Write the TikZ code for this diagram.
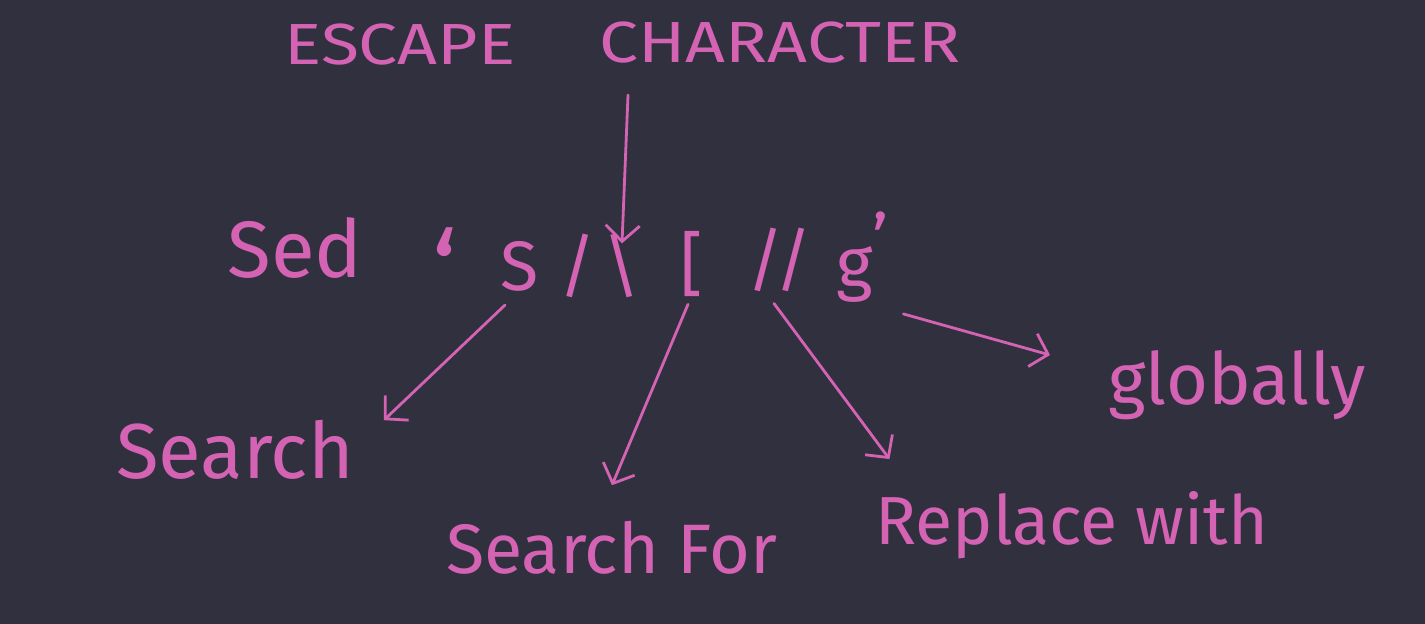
\documentclass[tikz,border=0pt]{standalone}
\usepackage{fontspec}
\setmainfont{Fira Sans}
\usetikzlibrary{arrows.meta,calc}
\definecolor{bg}{HTML}{31303F}
\definecolor{ink}{HTML}{D463B4}
\begin{document}
\begin{tikzpicture}[x=1pt,y=-1pt,
  txt/.style={text=ink,inner sep=0pt},
  cmd/.style={txt,anchor=base,font=\fontsize{70}{76}\selectfont},
  lbl/.style={txt},
  ttl/.style={txt,font=\fontsize{58}{62}\selectfont,xscale=1.2,transform shape},
  arr/.style={draw=ink,line width=2.8pt,line cap=round,
    -{Straight Barb[length=16pt,width=34pt,line width=2.8pt]}},
]
\fill[bg] (0,0) rectangle (1425,624);
\useasboundingbox (0,0) rectangle (1425,624);

% title
\node[ttl] (esc1) at (400,45) {ESCAPE};
\node[ttl] (esc2) at (780,43) {CHARACTER};
\coordinate (escfrom) at (628,95);

% command
\node[cmd,font=\fontsize{80}{86}\selectfont] (sed) at (295,277) {Sed};
\node[cmd,font=\fontsize{110}{116}\selectfont] (q1) at (445,310) {‘};
\node[cmd] (s) at (520,290) {S};
\node[cmd] (sl) at (578,290) {/};
\node[cmd] (bs) at (622,290) {\textbackslash};
\node[cmd] (br) at (692,288) {[};
\node[cmd] (sl2) at (780,284) {//};
\node[cmd] (g) at (855,287) {g};
\node[cmd] (q2) at (880,264) {’};

% labels
\node[lbl,font=\fontsize{78}{84}\selectfont] (search) at (235,450) {Search};
\node[lbl,font=\fontsize{70}{76}\selectfont] (searchfor) at (612,548) {Search For};
\node[lbl,font=\fontsize{68}{74}\selectfont] (replace) at (1072,525) {Replace with};
\node[lbl,font=\fontsize{72}{78}\selectfont] (globally) at (1237,385) {globally};

% arrows
\draw[arr] (escfrom) -- ($(bs.north)+(0,10)$);
\draw[arr] ($(s.south)+(-15,14)$) -- ($(search.north east)+(30,0)$);
\draw[arr] ($(br.south)+(-4,8)$) -- ($(searchfor.north)+(0,-36)$);
\draw[arr] ($(sl2.south)+(-6,12)$) -- ($(replace.north west)+(14,-32)$);
\draw[arr] ($(g.east)+(30,40)$) -- ($(globally.west)+(-58,-30)$);
\end{tikzpicture}
\end{document}
